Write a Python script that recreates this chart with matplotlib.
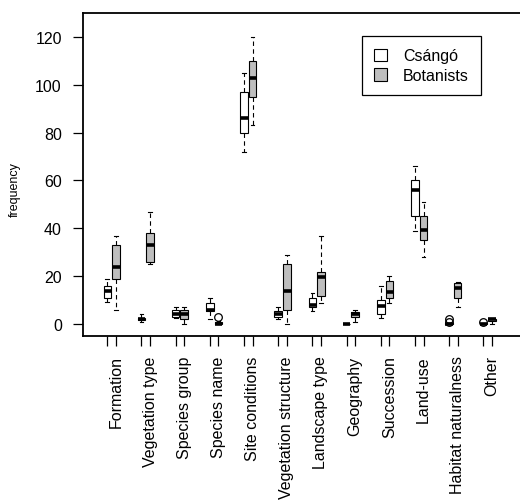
import matplotlib
matplotlib.use("Agg")
from matplotlib import pyplot as plt
from matplotlib.patches import Patch

plt.rcParams['font.family'] = ['Liberation Sans', 'DejaVu Sans']

categories = ["Formation", "Vegetation type", "Species group", "Species name",
              "Site conditions", "Vegetation structure", "Landscape type",
              "Geography", "Succession", "Land-use", "Habitat naturalness", "Other"]

# box stats: whisker low, Q1, median, Q3, whisker high
csango_low = [9, 1, 2.5, 2, 72, 2, 5.6, 0, 2.5, 39, 0, 0]
csango_q1 = [11, 1.5, 3, 5.3, 80, 2.8, 7, 0, 4, 45, 0, 0]
csango_med = [14, 2, 4.3, 6, 86, 4.3, 8, 0, 7.6, 56, 0, 0]
csango_q3 = [16, 2.6, 5.7, 8.8, 97, 5.6, 11, 0, 10.2, 60, 0.4, 0.3]
csango_high = [19, 4, 7.2, 11, 105, 7.2, 13, 0, 16, 66, 0.4, 0.3]
csango_out = [[], [], [], [], [], [], [], [], [], [], [1, 2], [1]]

bot_low = [6, 25, 0, 0, 83, 0, 8.6, 1, 8.8, 28, 7.2, 0]
bot_q1 = [19, 26, 2.1, 0, 95, 6, 11.8, 3, 11, 35, 11, 1.3]
bot_med = [24, 33, 4.3, 0, 103, 14, 19.5, 4, 13.2, 39.5, 15, 2]
bot_q3 = [33, 38, 5.7, 1, 110, 25, 21.6, 5, 17.8, 45, 17, 2.3]
bot_high = [37, 47, 7.2, 1.3, 120, 29, 37, 6, 20, 51, 17.7, 2.5]
bot_out = [[], [], [], [3], [], [], [], [], [], [], [], []]


def make_stats(low, q1, med, q3, high, out):
    return [dict(whislo=a, q1=b, med=c, q3=d, whishi=e, fliers=f)
            for a, b, c, d, e, f in zip(low, q1, med, q3, high, out)]


fig = plt.figure(figsize=(5.2, 5.02), dpi=100)
ax = fig.add_axes([0.159, 0.3287, 0.8448, 0.6434])

pos_c = [i + 1 for i in range(len(categories))]
pos_b = [i + 1.25 for i in range(len(categories))]

common = dict(widths=0.22, capwidths=0.11, patch_artist=True, manage_ticks=False,
              whiskerprops=dict(linestyle=(0, (4, 3)), linewidth=0.8, color='black'),
              capprops=dict(linewidth=0.8, color='black'),
              medianprops=dict(linewidth=2.6, color='black'),
              flierprops=dict(marker='o', markersize=5.5, markerfacecolor='none',
                              markeredgecolor='black', markeredgewidth=0.9))

ax.bxp(make_stats(csango_low, csango_q1, csango_med, csango_q3, csango_high, csango_out),
       positions=pos_c,
       boxprops=dict(facecolor='white', edgecolor='black', linewidth=0.8), **common)
ax.bxp(make_stats(bot_low, bot_q1, bot_med, bot_q3, bot_high, bot_out),
       positions=pos_b,
       boxprops=dict(facecolor='#BEBEBE', edgecolor='black', linewidth=0.8), **common)

ax.set_xlim(0.28, 13.13)
ax.set_ylim(-5, 130)

ticks = []
labels = []
for c, b, name in zip(pos_c, pos_b, categories):
    ticks += [c, b]
    labels += ["", name]
ax.set_xticks(ticks)
ax.set_xticklabels(labels, rotation=90, fontsize=11.5)
ax.set_yticks([0, 20, 40, 60, 80, 100, 120])
ax.tick_params(axis='both', length=7, width=0.9, labelsize=11.5)
ax.tick_params(axis='x', pad=7)
ax.tick_params(axis='y', pad=8)

for s in ax.spines.values():
    s.set_linewidth(1.3)

ax.set_ylabel("frequency", fontsize=9)
ax.yaxis.set_label_coords(-0.141, 0.455)

handles = [Patch(facecolor='white', edgecolor='black', linewidth=0.8, label='Csángó'),
           Patch(facecolor='#BEBEBE', edgecolor='black', linewidth=0.8, label='Botanists')]
leg = ax.legend(handles=handles, loc='upper left', bbox_to_anchor=(0.636, 0.928),
                fontsize=11.5, fancybox=False, framealpha=1, edgecolor='black',
                handlelength=0.8, handleheight=0.8, handletextpad=1.0,
                borderpad=0.75, labelspacing=0.3, borderaxespad=0)
leg.get_frame().set_linewidth(0.9)

fig.savefig("out.png", dpi=100)
